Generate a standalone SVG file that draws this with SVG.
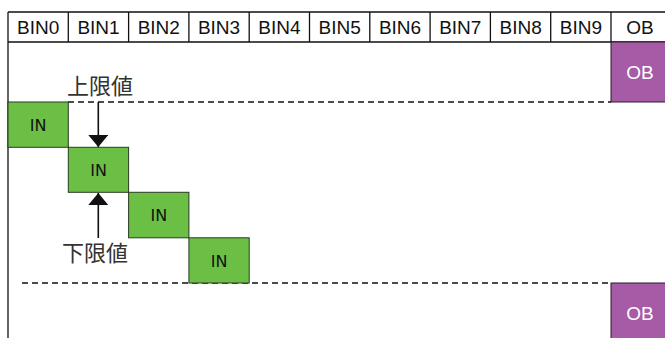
<svg xmlns="http://www.w3.org/2000/svg" width="665" height="338" viewBox="0 0 665 338">
<style>
.hdr{font-family:"Liberation Sans",Arial,sans-serif;font-size:19px;fill:#111;text-anchor:middle}
.grid{stroke:#111;stroke-width:1.3;fill:none}
.in rect{fill:#6cbf45;stroke:#2b3a22;stroke-width:1}
.in text{font-family:"DejaVu Sans",Verdana,sans-serif;font-size:16px;fill:#111;text-anchor:middle}
.ob rect{fill:#a65ba6;stroke:#2a1a2a;stroke-width:1}
.ob text{font-family:"Liberation Sans",Arial,sans-serif;font-size:19px;fill:#fff;text-anchor:middle}
.dash{stroke:#111;stroke-width:1.3;stroke-dasharray:6 4;fill:none}
.arr{stroke:#111;stroke-width:1.6;fill:none}
.lbl{font-family:"Noto Sans CJK JP","Noto Sans CJK SC",sans-serif;font-size:22px;fill:#333}
</style>
<defs>
<marker id="ah" viewBox="0 0 12 20" refX="12" refY="10" markerWidth="12" markerHeight="20" markerUnits="userSpaceOnUse" orient="auto">
<path d="M0,0 L12,10 L0,20 Z" fill="#111"/>
</marker>
</defs>
<rect width="665" height="338" fill="#fff"/>
<g id="header">
<line class="grid" x1="8" y1="12" x2="665" y2="12"/>
<line class="grid" x1="8" y1="42" x2="665" y2="42"/>
<line class="grid" x1="8" y1="12" x2="8" y2="338"/>
<line class="grid" x1="68.3" y1="12" x2="68.3" y2="42"/>
<line class="grid" x1="128.6" y1="12" x2="128.6" y2="42"/>
<line class="grid" x1="188.9" y1="12" x2="188.9" y2="42"/>
<line class="grid" x1="249.2" y1="12" x2="249.2" y2="42"/>
<line class="grid" x1="309.5" y1="12" x2="309.5" y2="42"/>
<line class="grid" x1="369.8" y1="12" x2="369.8" y2="42"/>
<line class="grid" x1="430.1" y1="12" x2="430.1" y2="42"/>
<line class="grid" x1="490.4" y1="12" x2="490.4" y2="42"/>
<line class="grid" x1="550.7" y1="12" x2="550.7" y2="42"/>
<line class="grid" x1="611" y1="12" x2="611" y2="42"/>
<text class="hdr" x="38.2" y="33.5">BIN0</text>
<text class="hdr" x="98.5" y="33.5">BIN1</text>
<text class="hdr" x="158.8" y="33.5">BIN2</text>
<text class="hdr" x="219" y="33.5">BIN3</text>
<text class="hdr" x="279.4" y="33.5">BIN4</text>
<text class="hdr" x="339.7" y="33.5">BIN5</text>
<text class="hdr" x="400" y="33.5">BIN6</text>
<text class="hdr" x="460.3" y="33.5">BIN7</text>
<text class="hdr" x="520.6" y="33.5">BIN8</text>
<text class="hdr" x="580.9" y="33.5">BIN9</text>
<text class="hdr" x="640" y="33.5">OB</text>
</g>
<g id="limits">
<line class="dash" x1="68" y1="102" x2="611" y2="102"/>
<line class="dash" x1="22" y1="283" x2="611" y2="283"/>
</g>
<g id="ob1" class="ob"><rect x="611" y="42" width="60" height="60"/><text x="640" y="79">OB</text></g>
<g id="ob2" class="ob"><rect x="611" y="283" width="60" height="60"/><text x="640" y="320">OB</text></g>
<g id="in1" class="in"><rect x="8" y="102" width="60.3" height="45.3"/><text x="38.2" y="130.5">IN</text></g>
<g id="in2" class="in"><rect x="68.3" y="147.3" width="60.3" height="45"/><text x="98.5" y="175.5">IN</text></g>
<g id="in3" class="in"><rect x="128.6" y="192.3" width="60.3" height="45.5"/><text x="158.8" y="221">IN</text></g>
<g id="in4" class="in"><rect x="188.9" y="237.8" width="60.3" height="45.2"/><text x="219" y="266.5">IN</text></g>
<g id="connectors">
<line class="arr" x1="98.3" y1="102" x2="98.3" y2="147" marker-end="url(#ah)"/>
<line class="arr" x1="98.3" y1="238" x2="98.3" y2="193" marker-end="url(#ah)"/>
</g>
<g id="labels">
<text class="lbl" x="67" y="94">上限値</text>
<text class="lbl" x="62" y="261">下限値</text>
</g>
</svg>
